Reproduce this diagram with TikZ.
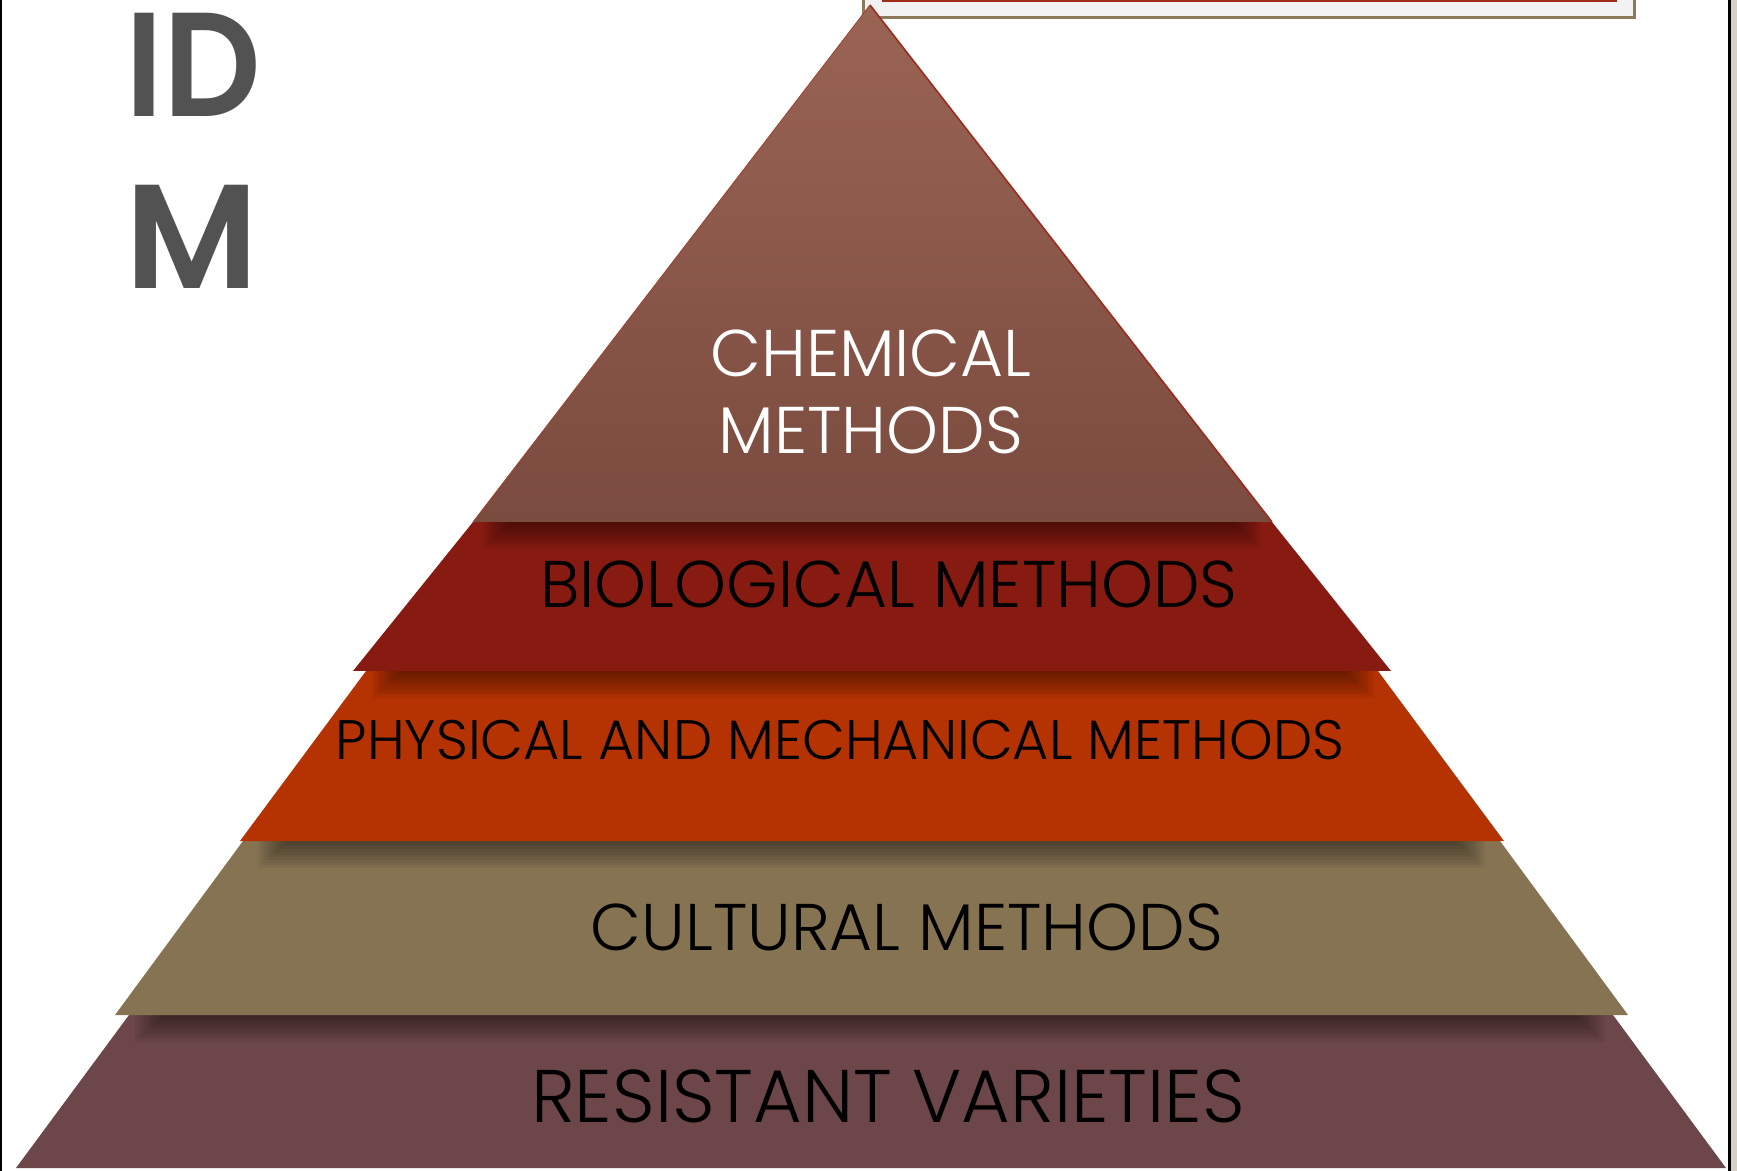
\documentclass[tikz,border=0pt]{standalone}
\usepackage{fontspec}
\setmainfont{Poppins}
\newfontfamily\plight{Poppins Light}
\newfontfamily\psemi{Poppins SemiBold}
\definecolor{chemtop}{HTML}{9A6454}
\definecolor{chembot}{HTML}{7A4B3F}
\definecolor{biocol}{HTML}{881B11}
\definecolor{physcol}{HTML}{B53203}
\definecolor{cultcol}{HTML}{857352}
\definecolor{rescol}{HTML}{6C4648}
\definecolor{idgray}{HTML}{525252}
\definecolor{boxfill}{HTML}{F2F2F2}
\definecolor{boxedge}{HTML}{8B7B5A}
\definecolor{boxred}{HTML}{9E2A1C}
\definecolor{edgegray}{HTML}{D5D1C5}
\newcommand\layershadow[3]{%
  \foreach \i in {0,...,9}{%
    \fill[black, opacity=0.047] ({#1+3*\i},{#3-4}) rectangle ({#2-3*\i},{#3+27-2.7*\i});
  }}
\tikzset{
  lbl/.style={anchor=base, inner sep=0pt, font=\plight\fontsize{33}{40}\selectfont, text=black},
  bigletter/.style={anchor=base west, inner sep=0pt, font=\psemi\fontsize{74}{80}\selectfont, text=idgray},
}
\begin{document}
\begin{tikzpicture}[x=0.5pt,y=-0.5pt]
\useasboundingbox (0,0) rectangle (1737,1171);
\fill[white] (0,0) rectangle (1737,1171);
% page edges
\fill[edgegray] (1730,0) rectangle (1737,1171);
\fill[black] (1728,0) rectangle (1730.5,1171);
\fill[black] (0,0) rectangle (1.5,1171);
% top box
\fill[boxedge] (862,-6) rectangle (1636,19);
\fill[boxfill] (865,-6) rectangle (1633,16);
\fill[boxred] (882,-6) rectangle (1617,2);
% resistant
\fill[rescol] (129,1015) -- (1613,1015) -- (1726,1168) -- (16,1168) -- cycle;
\layershadow{135}{1605}{1015}
% cultural
\fill[cultcol] (243,841) -- (1500,841) -- (1628,1015) -- (115,1015) -- cycle;
\layershadow{258}{1485}{841}
% physical
\fill[physcol] (366,671) -- (1378,671) -- (1504,841) -- (240,841) -- cycle;
\layershadow{372}{1374}{671}
% biological
\fill[biocol] (473,522) -- (1272,522) -- (1391,671) -- (353,671) -- cycle;
\layershadow{482}{1262}{522}
% chemical
\shade[top color=chemtop, bottom color=chembot] (870,5) -- (1272,522) -- (473,522) -- cycle;
\draw[boxred, line width=0.8pt] (870,5) -- (1272,522);
\draw[boxred!60!chemtop, line width=0.4pt] (870,5) -- (473,522);
% labels
\node[lbl, text=white] (chem1) at (871,377) {CHEMICAL};
\node[lbl, text=white] (chem2) at (871,454) {METHODS};
\node[lbl] (bio) at (889,608) {BIOLOGICAL METHODS};
\node[lbl, font=\plight\fontsize{27.8}{34}\selectfont] (phys) at (840,760) {PHYSICAL AND MECHANICAL METHODS};
\node[lbl] (cult) at (907,950) {CULTURAL METHODS};
\node[lbl, font=\plight\fontsize{37.3}{44}\selectfont] (res) at (888,1122) {RESISTANT VARIETIES};
% big letters
\node[bigletter] (id) at (125,117) {\scalebox{0.92}[1]{ID}};
\node[bigletter] (m) at (125,289) {M};
\end{tikzpicture}
\end{document}
